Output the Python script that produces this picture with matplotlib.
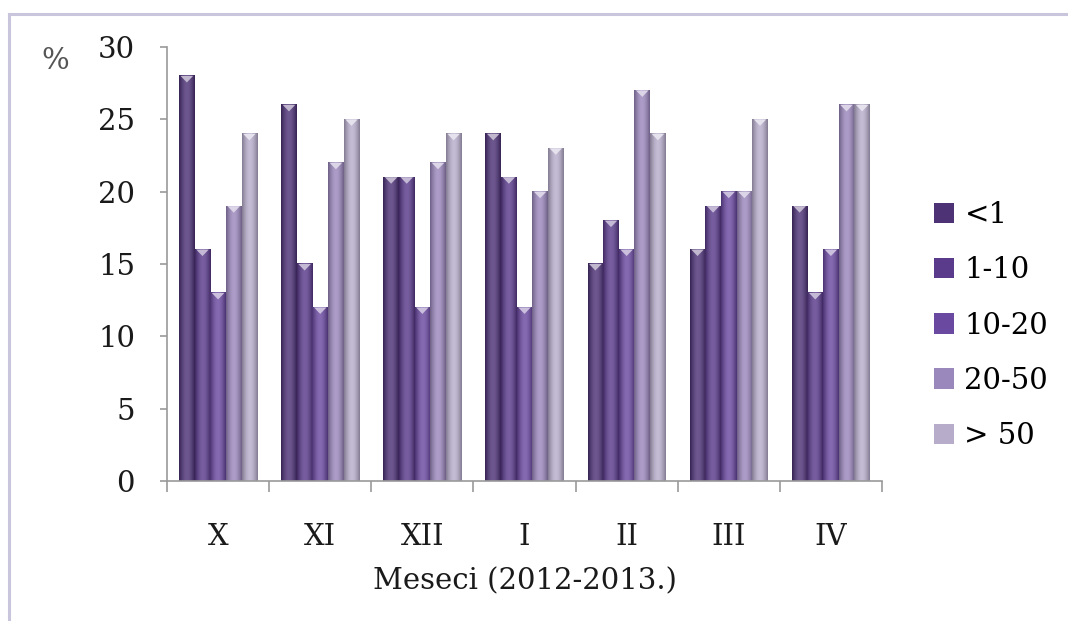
import numpy as np
import matplotlib
matplotlib.use('Agg')
from matplotlib import pyplot as plt
from matplotlib.patches import Polygon, Patch
from matplotlib.lines import Line2D
from matplotlib.colors import to_rgb

months = ['X', 'XI', 'XII', 'I', 'II', 'III', 'IV']
classes = ['<1', '1-10', '10-20', '20-50', '> 50']
lt1 = [28, 26, 21, 24, 15, 16, 19]
c1_10 = [16, 15, 21, 21, 18, 19, 13]
c10_20 = [13, 12, 12, 12, 16, 20, 16]
c20_50 = [19, 22, 22, 20, 27, 20, 26]
gt50 = [24, 25, 24, 23, 24, 25, 26]
series = [lt1, c1_10, c10_20, c20_50, gt50]
colors = ['#4d3276', '#5a3b8b', '#6a49a0', '#9a87bc', '#b7adcb']

plt.rcParams['font.family'] = ['DejaVu Serif']
fs = 21
fig = plt.figure(figsize=(10.68, 6.21), dpi=100)
ax = fig.add_axes([0.1564, 0.2254, 0.8258 - 0.1564, 0.9243 - 0.2254])

n = len(months)
w = 0.153
x = np.arange(n) + 0.5

def shade(base, t):
    # cylinder-ish shading across the bar width
    b = np.array(to_rgb(base))
    k = np.sin(np.pi * t)
    dark = b * 0.72
    light = b + (1 - b) * 0.18
    return dark[None, :] * (1 - k[:, None]) + light[None, :] * k[:, None]

t = np.linspace(0, 1, 32)
for j, vals in enumerate(series):
    grad = shade(colors[j], t)[None, :, :]
    for i, v in enumerate(vals):
        x0 = x[i] + (j - 2.5) * w
        ax.imshow(grad, extent=[x0, x0 + w, 0, v], aspect='auto',
                  interpolation='bilinear', zorder=2)
        b = np.array(to_rgb(colors[j]))
        tip = b + (1 - b) * 0.65
        ax.add_patch(Polygon([(x0 + 0.1 * w, v), (x0 + 0.9 * w, v),
                              (x0 + 0.5 * w, v - 0.45)],
                             closed=True, color=tip, lw=0, zorder=3))

ax.set_xlim(0, n)
ax.set_ylim(0, 30)
ax.set_yticks(range(0, 31, 5))
ax.set_xticks(range(0, n + 1))
ax.set_xticklabels([])
ax.set_xticks(x, minor=True)
ax.set_xticklabels(months, minor=True)
ax.tick_params(axis='x', which='minor', length=0, pad=30, labelsize=fs,
               labelcolor='#1a1a1a')
ax.tick_params(axis='x', which='major', length=8, color='#9a9a9a', width=1.2)
ax.tick_params(axis='y', length=5, color='#9a9a9a', width=1.2, pad=18,
               labelsize=fs, labelcolor='#1a1a1a')
for s in ['top', 'right']:
    ax.spines[s].set_visible(False)
for s in ['left', 'bottom']:
    ax.spines[s].set_color('#9a9a9a')
    ax.spines[s].set_linewidth(1.2)
ax.set_xlabel('Meseci (2012-2013.)', fontsize=fs, labelpad=12, color='#1a1a1a')
fig.text(0.052, 0.902, '%', fontsize=fs, color='#555555', ha='center', va='center')

handles = [Patch(facecolor=c, edgecolor='none') for c in colors]
fig.legend(handles, classes, loc='upper left', bbox_to_anchor=(0.850, 0.718),
           frameon=False, fontsize=fs, labelspacing=0.93, handlelength=0.69,
           handleheight=0.69, handletextpad=0.35, prop={'size': fs})

# chart frame
fc = '#c9c5dd'
fig.add_artist(Line2D([8.5 / 1068, 1.0], [1 - 13.5 / 621, 1 - 13.5 / 621],
                      color=fc, lw=2.2, transform=fig.transFigure))
fig.add_artist(Line2D([8.5 / 1068, 8.5 / 1068], [0.0, 1 - 13.5 / 621],
                      color=fc, lw=2.2, transform=fig.transFigure))

plt.savefig('out.png', dpi=100)
